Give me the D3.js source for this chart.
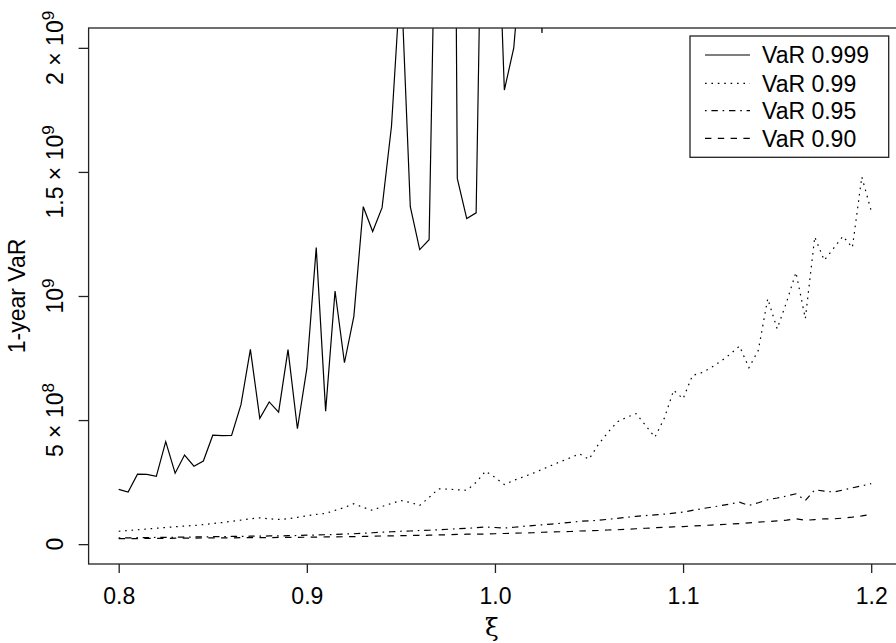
<!DOCTYPE html>
<html><head><meta charset="utf-8">
<script src="https://cdn.jsdelivr.net/npm/d3@7"></script>
<style>
html,body{margin:0;padding:0;background:#fff;}
svg text{font-family:"Liberation Sans",Arial,Helvetica,sans-serif;}
</style></head>
<body><svg id="c" width="896" height="643"></svg>
<script>
// ---- data ----
const xi = d3.range(81).map(i => +(0.8 + i * 0.005).toFixed(3));
const var999 = [2.21e8, 2.10e8, 2.82e8, 2.81e8, 2.73e8, 4.13e8, 2.86e8, 3.59e8, 3.14e8, 3.35e8,
 4.39e8, 4.37e8, 4.38e8, 5.62e8, 7.85e8, 5.07e8, 5.73e8, 5.32e8, 7.84e8, 4.65e8,
 7.07e8, 1.195e9, 5.36e8, 1.02e9, 7.31e8, 9.18e8, 1.36e9, 1.26e9, 1.356e9, 1.684e9,
 2.3e9, 1.36e9, 1.187e9, 1.227e9, 3.3e9, 7.2e9, 1.473e9, 1.312e9, 1.335e9, 3.6e9,
 2.9e9, 1.83e9, 2.0e9, 2.45e9, 3.5e9, 2.06e9, 4.0e9,
 4.4e9, 3.8e9, 5.1e9, 4.6e9, 5.5e9, 6.2e9, 5.4e9, 6.9e9, 6.1e9, 7.4e9,
 8.2e9, 7.0e9, 8.8e9, 9.6e9, 8.5e9, 1.05e10, 1.12e10, 9.9e9, 1.25e10, 1.18e10,
 1.36e10, 1.52e10, 1.41e10, 1.63e10, 1.78e10, 1.66e10, 1.95e10, 2.1e10, 1.97e10, 2.3e10,
 2.48e10, 2.35e10, 2.7e10, 2.9e10];
const var99 = [5.2e7, 5.5e7, 5.8e7, 6.1e7, 6.4e7, 6.7e7, 7.0e7, 7.3e7, 7.5e7, 7.9e7,
 8.3e7, 8.7e7, 9.2e7, 9.7e7, 1.02e8, 1.06e8, 1.02e8, 1.00e8, 1.02e8, 1.08e8,
 1.14e8, 1.20e8, 1.24e8, 1.36e8, 1.48e8, 1.63e8, 1.48e8, 1.36e8, 1.52e8, 1.64e8,
 1.76e8, 1.68e8, 1.56e8, 1.88e8, 2.23e8, 2.22e8, 2.19e8, 2.17e8, 2.49e8, 2.94e8,
 2.69e8, 2.40e8, 2.57e8, 2.71e8, 2.85e8, 3.01e8, 3.17e8, 3.33e8, 3.48e8, 3.64e8,
 3.42e8, 4.02e8, 4.50e8, 4.93e8, 5.11e8, 5.26e8, 4.79e8, 4.31e8, 5.07e8, 6.20e8,
 5.86e8, 6.80e8, 6.91e8, 7.12e8, 7.37e8, 7.65e8, 7.98e8, 7.11e8, 7.81e8, 9.89e8,
 8.68e8, 9.75e8, 1.095e9, 9.09e8, 1.238e9, 1.144e9, 1.192e9, 1.241e9, 1.195e9, 1.480e9,
 1.343e9];
const var95 = [2.5e7, 2.5e7, 2.6e7, 2.6e7, 2.7e7, 2.7e7, 2.8e7, 2.8e7, 2.9e7, 2.9e7,
 3.0e7, 3.0e7, 3.1e7, 3.1e7, 3.2e7, 3.2e7, 3.3e7, 3.3e7, 3.4e7, 3.5e7,
 3.6e7, 3.7e7, 3.8e7, 3.9e7, 4.1e7, 4.2e7, 4.4e7, 4.6e7, 4.8e7, 5.0e7,
 5.2e7, 5.3e7, 5.5e7, 5.6e7, 5.8e7, 6.0e7, 6.2e7, 6.4e7, 6.6e7, 6.9e7,
 6.7e7, 6.5e7, 6.8e7, 7.2e7, 7.5e7, 7.8e7, 8.1e7, 8.4e7, 8.8e7, 9.2e7,
 9.4e7, 9.6e7, 1.0e8, 1.04e8, 1.08e8, 1.12e8, 1.15e8, 1.18e8, 1.21e8, 1.25e8,
 1.29e8, 1.36e8, 1.43e8, 1.49e8, 1.55e8, 1.62e8, 1.69e8, 1.56e8, 1.67e8, 1.79e8,
 1.86e8, 1.94e8, 2.03e8, 1.76e8, 2.19e8, 2.14e8, 2.10e8, 2.18e8, 2.27e8, 2.35e8,
 2.44e8];
const var90 = [2.2e7, 2.2e7, 2.2e7, 2.3e7, 2.3e7, 2.3e7, 2.4e7, 2.4e7, 2.4e7, 2.5e7,
 2.5e7, 2.5e7, 2.5e7, 2.6e7, 2.6e7, 2.6e7, 2.6e7, 2.7e7, 2.7e7, 2.7e7,
 2.8e7, 2.8e7, 2.9e7, 2.9e7, 3.0e7, 3.0e7, 3.1e7, 3.2e7, 3.3e7, 3.3e7,
 3.4e7, 3.5e7, 3.5e7, 3.6e7, 3.7e7, 3.8e7, 3.9e7, 4.0e7, 4.0e7, 4.1e7,
 4.2e7, 4.3e7, 4.4e7, 4.5e7, 4.6e7, 4.8e7, 4.9e7, 5.0e7, 5.1e7, 5.3e7,
 5.4e7, 5.5e7, 5.7e7, 5.8e7, 6.0e7, 6.2e7, 6.4e7, 6.6e7, 6.8e7, 7.0e7,
 7.1e7, 7.3e7, 7.5e7, 7.7e7, 7.9e7, 8.1e7, 8.3e7, 8.6e7, 8.9e7, 9.1e7,
 9.4e7, 9.7e7, 1.02e8, 9.6e7, 9.9e7, 1.02e8, 1.02e8, 1.05e8, 1.09e8, 1.14e8,
 1.20e8];
const seriesNames = ["VaR 0.999", "VaR 0.99", "VaR 0.95", "VaR 0.90"];
const xTicks = [0.8, 0.9, 1.0, 1.1, 1.2];
const xTickLabels = ["0.8", "0.9", "1.0", "1.1", "1.2"];
const yTicks = [0, 5e8, 1e9, 1.5e9, 2e9];
const yTickLabels = [["0", null], ["5 \u00d7 10", "8"], ["10", "9"], ["1.5 \u00d7 10", "9"], ["2 \u00d7 10", "9"]];
const xLabel = "\u03be";
const yLabel = "1-year VaR";

// ---- layout ----
const svg = d3.select("#c");
const L = 88.6, R = 901.3, T = 28, B = 564;
const x = d3.scaleLinear().domain([0.784, 1.216]).range([L, R]);
const y = d3.scaleLinear().domain([-8e7, 2.08e9]).range([B, T]);

svg.append("defs").append("clipPath").attr("id", "clip")
  .append("rect").attr("x", L).attr("y", T).attr("width", R - L).attr("height", B - T);

const styles = [
  {data: var999, dash: null},
  {data: var99, dash: "1.6,4.8"},
  {data: var95, dash: "1.6,4.8,6.4,4.8"},
  {data: var90, dash: "6.4,6.4"}
];
const line = d3.line().x(d => x(d[0])).y(d => y(d[1]));
const g = svg.append("g").attr("clip-path", "url(#clip)");
styles.forEach(s => {
  g.append("path").datum(xi.map((v, i) => [v, s.data[i]]))
    .attr("d", line).attr("fill", "none").attr("stroke", "#000")
    .attr("stroke-width", 1.2).attr("stroke-dasharray", s.dash);
});

// box
svg.append("rect").attr("x", L).attr("y", T).attr("width", R - L).attr("height", B - T)
  .attr("fill", "none").attr("stroke", "#222").attr("stroke-width", 1.3);

// x axis
const xa = svg.append("g").attr("transform", `translate(0,${B})`)
  .call(d3.axisBottom(x).tickValues(xTicks).tickSize(9).tickFormat((d, i) => xTickLabels[i]));
xa.select(".domain").remove();
xa.selectAll("line").attr("stroke", "#222").attr("stroke-width", 1.3);
xa.selectAll("text").attr("font-size", 23).attr("fill", "#000").attr("dy", null).attr("y", 40)
  .style("font-family", "'Liberation Sans',Arial,sans-serif");

// y axis
const ya = svg.append("g").attr("transform", `translate(${L},0)`)
  .call(d3.axisLeft(y).tickValues(yTicks).tickSize(10).tickFormat(""));
ya.select(".domain").remove();
ya.selectAll("line").attr("stroke", "#222").attr("stroke-width", 1.3);
yTicks.forEach((v, i) => {
  const t = svg.append("text")
    .attr("transform", `translate(63.3,${y(v)}) rotate(-90)`)
    .attr("text-anchor", "middle").attr("font-size", 23).attr("fill", "#000");
  t.append("tspan").text(yTickLabels[i][0]);
  if (yTickLabels[i][1]) {
    t.append("tspan").attr("font-size", 17).attr("dy", -9).text(yTickLabels[i][1]);
  }
});

// axis titles
svg.append("text").attr("x", (L + R) / 2 - 3).attr("y", 636).attr("text-anchor", "middle")
  .attr("font-size", 25).style("font-family", "'DejaVu Serif',serif").text(xLabel);
svg.append("text").attr("transform", `translate(25,${(T + B) / 2}) rotate(-90)`)
  .attr("text-anchor", "middle").attr("font-size", 23).text(yLabel);

// legend
const lg = svg.append("g");
lg.append("rect").attr("x", 690).attr("y", 36).attr("width", 198.7).attr("height", 121.3)
  .attr("fill", "#fff").attr("stroke", "#222").attr("stroke-width", 1.3);
const rowY = [55, 83.3, 110.6, 138.3];
seriesNames.forEach((n, i) => {
  lg.append("line").attr("x1", 705).attr("x2", 750).attr("y1", rowY[i]).attr("y2", rowY[i])
    .attr("stroke", "#000").attr("stroke-width", 1.2).attr("stroke-dasharray", styles[i].dash);
  lg.append("text").attr("x", 762).attr("y", rowY[i] + 8.3).attr("font-size", 23).text(n);
});
</script></body></html>
